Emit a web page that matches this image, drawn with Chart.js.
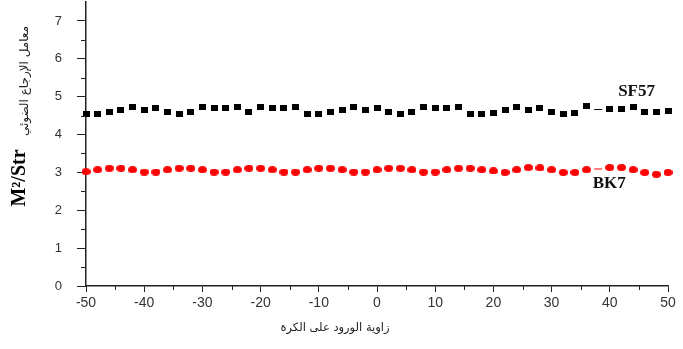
<!DOCTYPE html>
<html>
<head>
<meta charset="utf-8">
<script src="https://cdn.jsdelivr.net/npm/chart.js@4.4.1/dist/chart.umd.min.js"></script>
<style>
  html, body { margin: 0; background: #fff; }
</style>
</head>
<body>
<canvas id="chart" width="683" height="349"></canvas>
<script>
// incidence angle (degrees)
const angles = [-50, -48, -46, -44, -42, -40, -38, -36, -34, -32, -30, -28, -26, -24, -22, -20, -18, -16, -14, -12, -10,
  -8, -6, -4, -2, 0, 2, 4, 6, 8, 10, 12, 14, 16, 18, 20, 22, 24, 26, 28, 30, 32, 34, 36, 38, 40, 42, 44, 46, 48, 50];

const sf57 = [4.54, 4.54, 4.60, 4.64, 4.74, 4.64, 4.70, 4.60, 4.54, 4.60, 4.74, 4.70, 4.70, 4.74, 4.60, 4.74, 4.70,
  4.70, 4.74, 4.54, 4.54, 4.60, 4.64, 4.74, 4.64, 4.70, 4.60, 4.54, 4.60, 4.74, 4.70, 4.70, 4.74, 4.54, 4.54, 4.58,
  4.64, 4.74, 4.64, 4.70, 4.60, 4.54, 4.58, 4.75, 4.66, 4.68, 4.68, 4.74, 4.60, 4.60, 4.62];

const bk7 = [3.02, 3.07, 3.11, 3.11, 3.07, 3.01, 3.01, 3.07, 3.11, 3.11, 3.07, 3.01, 3.01, 3.07, 3.11, 3.11, 3.07,
  3.01, 3.01, 3.07, 3.11, 3.11, 3.07, 3.01, 3.01, 3.07, 3.11, 3.11, 3.07, 3.01, 3.01, 3.07, 3.11, 3.11, 3.07, 3.04,
  3.00, 3.07, 3.13, 3.12, 3.07, 3.00, 3.00, 3.07, 3.09, 3.13, 3.13, 3.07, 3.00, 2.95, 3.00];

const seriesLabels = [
  { text: "SF57", x: 44.6, y: 5.13 },
  { text: "BK7", x: 39.9, y: 2.70 },
];

const xTitle = "زاوية الورود على الكرة";
const yTitleLatin = "M²/Str";
const yTitleArabic = "معامل الإرجاع الضوئي";

// little marker images
function marker(w, h, color, round) {
  const c = document.createElement("canvas");
  c.width = w; c.height = h;
  const g = c.getContext("2d");
  g.fillStyle = color;
  if (round) {
    g.beginPath();
    g.ellipse(w / 2, h / 2, w / 2, h / 2, 0, 0, Math.PI * 2);
    g.fill();
  } else {
    g.fillRect(0, 0, w, h);
  }
  return c;
}
const squareImg = marker(7, 6, "#000", false);
const dotImg = marker(9, 7, "#ff0000", true);

const toPoints = (ys) => angles.map((a, i) => ({ x: a, y: ys[i] }));
const styleFor = (img) => angles.map((a) => (a === 38 ? "line" : img));

const axisColor = "#222";

const extras = {
  id: "extras",
  afterDraw(chart) {
    const { ctx, scales: { x, y } } = chart;
    ctx.save();

    // minor ticks
    ctx.strokeStyle = axisColor;
    ctx.lineWidth = 1;
    ctx.beginPath();
    x.ticks.forEach((t) => {
      if (t.value % 10 !== 0) {
        const px = Math.round(x.getPixelForValue(t.value)) + 0.5;
        ctx.moveTo(px, y.bottom);
        ctx.lineTo(px, y.bottom + 4);
      }
    });
    y.ticks.forEach((t) => {
      if (!Number.isInteger(t.value) && t.value < 7.2) {
        const py = Math.round(y.getPixelForValue(t.value)) + 0.5;
        ctx.moveTo(x.left, py);
        ctx.lineTo(x.left - 5, py);
      }
    });
    ctx.stroke();

    // series names
    ctx.fillStyle = "#111";
    ctx.font = "bold 17px 'Liberation Serif'";
    ctx.textAlign = "center";
    ctx.textBaseline = "middle";
    seriesLabels.forEach((l) => {
      ctx.fillText(l.text, x.getPixelForValue(l.x), y.getPixelForValue(l.y));
    });

    // x title
    ctx.fillStyle = "#222";
    ctx.font = "11.5px 'DejaVu Sans'";
    ctx.fillText(xTitle, 335, 328);

    // y titles (rotated)
    ctx.save();
    ctx.translate(20, 178);
    ctx.rotate(-Math.PI / 2);
    ctx.font = "bold 20px 'Liberation Serif'";
    ctx.fillStyle = "#000";
    ctx.fillText(yTitleLatin, 0, 0);
    ctx.restore();

    ctx.save();
    ctx.translate(25, 81);
    ctx.rotate(-Math.PI / 2);
    ctx.font = "12px 'DejaVu Sans'";
    ctx.fillStyle = "#222";
    ctx.fillText(yTitleArabic, 0, 0);
    ctx.restore();

    ctx.restore();
  },
};

new Chart(document.getElementById("chart"), {
  type: "scatter",
  data: {
    datasets: [
      {
        label: "SF57",
        data: toPoints(sf57),
        pointStyle: styleFor(squareImg),
        pointRadius: 4,
        borderColor: "#000",
        backgroundColor: "#000",
        borderWidth: 1,
        clip: false,
      },
      {
        label: "BK7",
        data: toPoints(bk7),
        pointStyle: styleFor(dotImg),
        pointRadius: 4,
        borderColor: "#ff0000",
        backgroundColor: "#ff0000",
        borderWidth: 1,
        clip: false,
      },
    ],
  },
  options: {
    responsive: false,
    animation: false,
    layout: { autoPadding: false, padding: { top: 2, right: 15, left: 0, bottom: 0 } },
    plugins: {
      legend: { display: false },
      tooltip: { enabled: false },
    },
    scales: {
      x: {
        type: "linear",
        min: -50,
        max: 50,
        afterFit: (s) => { s.height = 63; s.paddingLeft = 0; s.paddingRight = 0; },
        border: { display: true, color: axisColor, width: 1.5 },
        grid: {
          drawOnChartArea: false,
          tickLength: 6,
          tickColor: (c) => (c.tick && c.tick.value % 10 === 0 ? axisColor : "rgba(0,0,0,0)"),
        },
        ticks: {
          stepSize: 5,
          autoSkip: false,
          maxRotation: 0,
          padding: 3,
          color: "#333",
          font: { family: "'Liberation Sans'", size: 14 },
          callback: (v) => (v % 10 === 0 ? v : ""),
        },
      },
      y: {
        type: "linear",
        min: 0,
        max: 7.5,
        afterFit: (s) => { s.width = 86; s.paddingTop = 0; s.paddingBottom = 0; },
        border: { display: true, color: axisColor, width: 1.5 },
        grid: {
          drawOnChartArea: false,
          tickLength: 9,
          tickColor: (c) => (c.tick && Number.isInteger(c.tick.value) ? axisColor : "rgba(0,0,0,0)"),
        },
        ticks: {
          stepSize: 0.5,
          autoSkip: false,
          padding: 15,
          color: "#333",
          font: { family: "'Liberation Sans'", size: 13 },
          callback: (v) => (Number.isInteger(v) ? v : ""),
        },
      },
    },
  },
  plugins: [extras],
});
</script>
</body>
</html>
